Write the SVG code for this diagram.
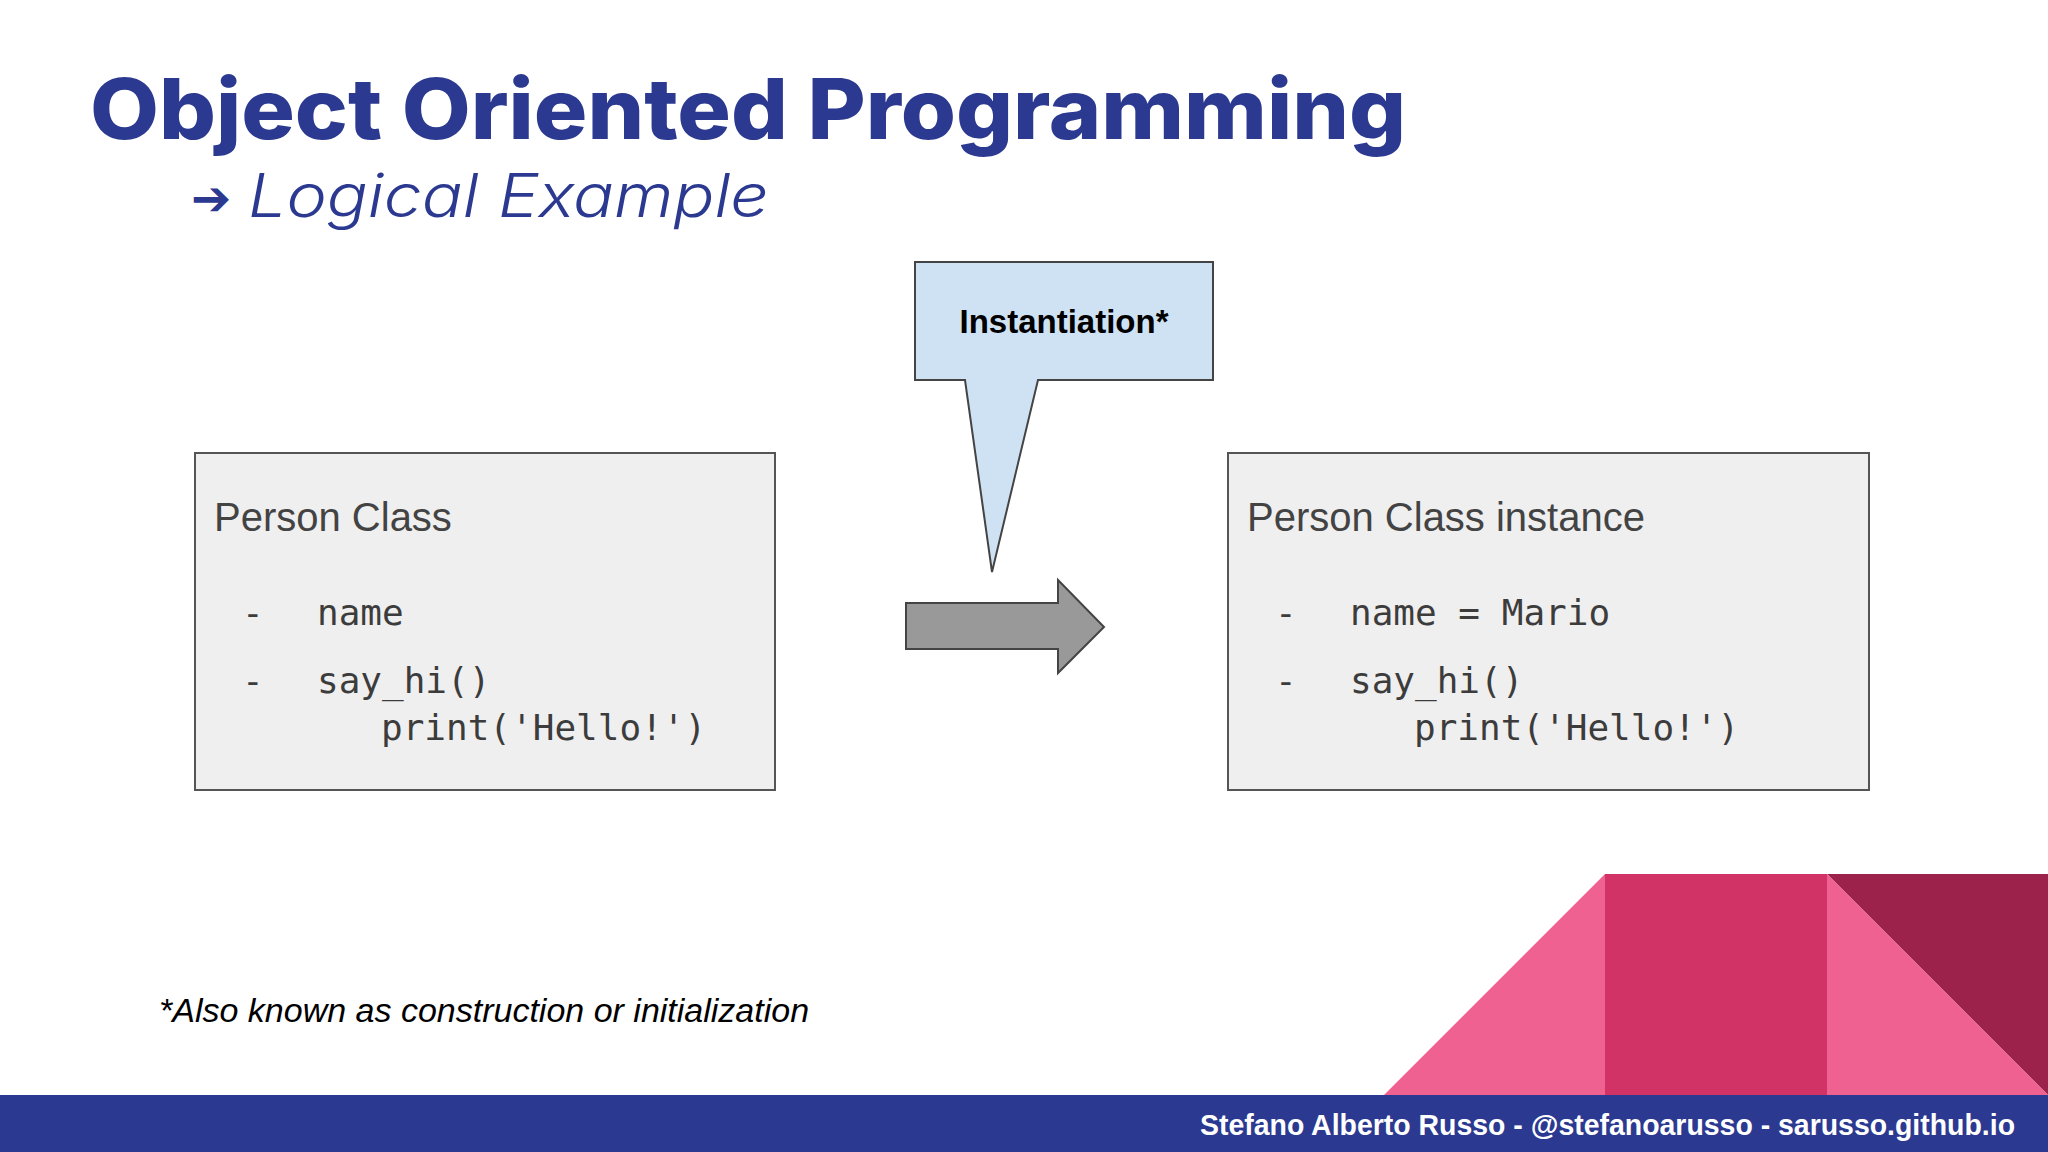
<svg xmlns="http://www.w3.org/2000/svg" width="2048" height="1152" viewBox="0 0 2048 1152">
  <style>
    .title { font-family: Inter, "Open Sans", "Liberation Sans", sans-serif; font-weight: 800; fill: #2b3990; }
    .subtitle { font-family: Inter, "Open Sans", "Liberation Sans", sans-serif; font-weight: 300; font-style: italic; fill: #2b3990; }
    .arrowglyph { font-family: "DejaVu Sans", sans-serif; font-weight: bold; fill: #2b3990; }
    .box { fill: #efefef; stroke: #555555; stroke-width: 2; }
    .boxtitle { font-family: "Liberation Sans", Arial, sans-serif; font-size: 40px; fill: #434343; }
    .mono { font-family: "DejaVu Sans Mono", "Liberation Mono", monospace; font-size: 36px; fill: #3c3c3c; }
    .callout { fill: #cfe2f3; stroke: #444444; stroke-width: 2; stroke-linejoin: miter; }
    .callouttext { font-family: "Liberation Sans", Arial, sans-serif; font-weight: bold; font-size: 33px; fill: #000000; }
    .bigarrow { fill: #999999; stroke: #444444; stroke-width: 2; }
    .note { font-family: "Liberation Sans", Arial, sans-serif; font-style: italic; font-size: 34px; fill: #000000; }
    .footer { font-family: "Liberation Sans", Arial, sans-serif; font-weight: bold; font-size: 29px; fill: #ffffff; }
  </style>
  <rect x="0" y="0" width="2048" height="1152" fill="#ffffff"/>

  <g id="header">
    <text class="title" x="90" y="139" font-size="84" textLength="1316" lengthAdjust="spacingAndGlyphs">Object Oriented Programming</text>
    <text class="arrowglyph" x="191" y="215" font-size="48">➔</text>
    <text class="subtitle" x="248" y="217" font-size="60" textLength="521" lengthAdjust="spacingAndGlyphs">Logical Example</text>
  </g>

  <g id="node-class">
    <rect class="box" x="195" y="453" width="580" height="337"/>
    <text class="boxtitle" x="214" y="531">Person Class</text>
    <text class="mono" x="242" y="625">-</text>
    <text class="mono" x="317" y="625">name</text>
    <text class="mono" x="242" y="693">-</text>
    <text class="mono" x="317" y="693">say_hi()</text>
    <text class="mono" x="381" y="740">print('Hello!')</text>
  </g>

  <g id="node-instance">
    <rect class="box" x="1228" y="453" width="641" height="337"/>
    <text class="boxtitle" x="1247" y="531">Person Class instance</text>
    <text class="mono" x="1275" y="625">-</text>
    <text class="mono" x="1350" y="625">name = Mario</text>
    <text class="mono" x="1275" y="693">-</text>
    <text class="mono" x="1350" y="693">say_hi()</text>
    <text class="mono" x="1414" y="740">print('Hello!')</text>
  </g>

  <g id="node-callout">
    <path class="callout" d="M915,262 H1213 V380 H1038 L992,572 L965,380 H915 Z"/>
    <text class="callouttext" x="1064" y="333" text-anchor="middle">Instantiation*</text>
  </g>

  <g id="connectors">
    <path class="bigarrow" d="M906,603 H1058 V580 L1104,627 L1058,673 V649 H906 Z"/>
  </g>

  <g id="footnote">
    <text class="note" x="159" y="1022">*Also known as construction or initialization</text>
  </g>

  <g id="decoration">
    <polygon points="1384,1095 1605,874 1605,1095" fill="#ef6190"/>
    <rect x="1605" y="874" width="222" height="221" fill="#d13366"/>
    <polygon points="1827,874 2048,874 2048,1095" fill="#9c224c"/>
    <polygon points="1827,874 2048,1095 1827,1095" fill="#ef6190"/>
  </g>

  <g id="footer">
    <rect x="0" y="1095" width="2048" height="57" fill="#2b3990"/>
    <text class="footer" x="1200" y="1135" textLength="815" lengthAdjust="spacingAndGlyphs">Stefano Alberto Russo - @stefanoarusso - sarusso.github.io</text>
  </g>
</svg>
